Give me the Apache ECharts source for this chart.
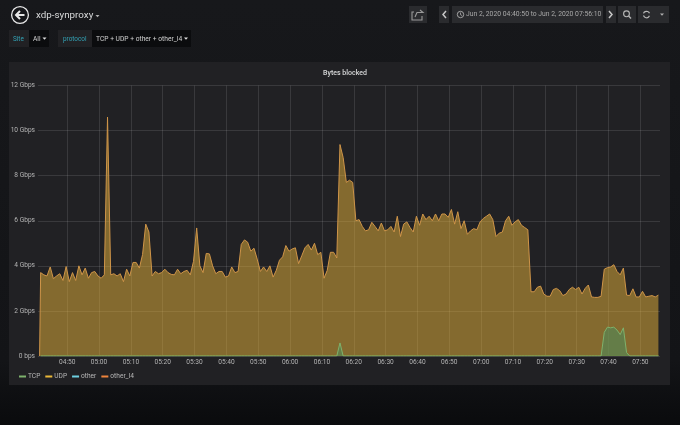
<!DOCTYPE html>
<html><head><meta charset="utf-8">
<script src="https://cdn.jsdelivr.net/npm/echarts@6/dist/echarts.min.js"></script>
<style>html,body{margin:0;padding:0;background:#0b0c0e}#c{width:680px;height:425px}</style>
</head><body><div id="c"></div>
<script>
const seriesNames = ['TCP','UDP','other','other_l4'];
const yTicks = ['0 bps','2 Gbps','4 Gbps','6 Gbps','8 Gbps','10 Gbps','12 Gbps'];
const xTickTimes = ['04:50','05:00','05:10','05:20','05:30','05:40','05:50','06:00','06:10','06:20','06:30','06:40','06:50','07:00','07:10','07:20','07:30','07:40','07:50'];
const otherL4 = [
3.7,3.6,3.55,3.95,3.43,3.55,3.65,3.35,3.97,3.3,
3.7,3.35,4.0,3.6,3.9,3.45,3.7,3.75,3.55,3.45,
3.6,10.6,3.6,3.65,3.55,3.65,3.3,3.85,3.55,4.15,
4.15,3.9,4.5,5.85,5.5,3.55,3.75,3.65,3.7,3.85,
3.7,3.62,3.6,3.85,3.65,3.75,3.8,3.6,4.2,5.68,
4.0,3.7,4.55,4.53,4.0,3.65,3.75,3.75,3.5,3.55,
3.95,3.7,3.75,4.95,5.15,5.05,4.65,4.78,4.3,3.75,
3.95,3.75,4.0,3.5,3.8,4.25,4.4,4.9,4.65,4.75,
4.8,4.1,4.45,4.8,4.95,4.7,5.0,4.5,4.6,3.45,
3.8,4.6,4.6,4.35,9.38,8.8,7.7,7.8,7.7,6.0,
6.05,5.75,5.55,5.6,5.93,5.75,5.55,5.9,5.55,5.6,
5.75,5.5,6.2,5.3,5.85,5.95,5.7,5.5,6.2,5.8,
6.3,6.05,6.2,6.0,6.3,6.0,6.3,6.3,6.15,6.5,
5.85,6.4,5.65,6.0,5.4,5.55,5.65,5.6,5.95,6.1,
6.2,6.3,6.05,5.3,5.45,5.5,6.0,6.2,5.8,5.95,
6.05,5.8,5.7,5.6,2.85,2.85,3.05,3.1,2.75,2.65,
2.65,2.95,3.0,2.9,2.68,2.75,2.95,3.05,2.95,3.05,
2.75,3.0,3.15,2.62,2.6,2.6,2.65,3.85,3.92,3.95,
4.05,3.75,3.6,3.9,2.7,2.68,2.98,2.62,2.62,2.87,
2.62,2.65,2.68,2.62,2.7];
const tcp = [
0,0,0,0,0,0,0,0,0,0,0,0,0,0,0,0,0,0,0,0,
0,0,0,0,0,0,0,0,0,0,0,0,0,0,0,0,0,0,0,0,
0,0,0,0,0,0,0,0,0,0,0,0,0,0,0,0,0,0,0,0,
0,0,0,0,0,0,0,0,0,0,0,0,0,0,0,0,0,0,0,0,
0,0,0,0,0,0,0,0,0,0,0,0,0,0,0.58,0,0,0,0,0,
0,0,0,0,0,0,0,0,0,0,0,0,0,0,0,0,0,0,0,0,
0,0,0,0,0,0,0,0,0,0,0,0,0,0,0,0,0,0,0,0,
0,0,0,0,0,0,0,0,0,0,0,0,0,0,0,0,0,0,0,0,
0,0,0,0,0,0,0,0,0,0,0,0,0,0,0,0,0,1.05,1.28,1.25,
1.28,1.15,0.95,1.25,0.15,0,0,0,0,0,0,0,0,0,0];
const udp = otherL4.map(() => 0.02);
const other = otherL4.map(() => 0);

const day = (h,m,s) => new Date(2020,5,2,h,m,s).getTime();
const rangeStart = day(4,40,50), rangeEnd = day(7,56,10);
const firstSample = day(4,41,40), stepMs = 60000;
const pair = arr => arr.map((v,i) => [firstSample + i*stepMs, v]);
const withRise = arr => [[day(4,41,20),0]].concat(pair(arr));
const xTicks = xTickTimes.map(s => { const [h,m] = s.split(':').map(Number); return day(h,m,0); });
const two = n => String(n).padStart(2,'0');

const rect = (x,y,w,h,fill) => ({type:'rect',silent:true,shape:{x,y,width:w,height:h},style:{fill}});
const txt = (x,y,text,fill,size,align) => ({type:'text',silent:true,x,y,style:{text,fill,font:size+'px Roboto',textAlign:align||'left',textVerticalAlign:'middle'}});
const caret = (cx,cy,fill) => ({type:'polygon',silent:true,shape:{points:[[cx-2,cy-1],[cx+2,cy-1],[cx,cy+1.3]]},style:{fill}});
const line = (pts,stroke,lw) => ({type:'polyline',silent:true,shape:{points:pts},style:{stroke,lineWidth:lw||1.2,fill:null}});

const chrome = [
  rect(9,62,661,323,'#212124'),
  {type:'circle',silent:true,shape:{cx:20,cy:15,r:8.4},style:{fill:'none',stroke:'#e8e8e8',lineWidth:1.3}},
  line([[16,15],[24.5,15]],'#e8e8e8',2), line([[20,11],[16,15],[20,19]],'#e8e8e8',2),
  txt(36,15.5,'xdp-synproxy','#d8d9da',9.8), caret(97.5,16,'#b0b0b0'),
  rect(9,30,20,17,'#212124'), txt(13,39,'Site','#33a2b5',6.4),
  rect(29,30,20,17,'#0b0c0e'), txt(33,39,'All','#d0d0d0',6.7), caret(44.5,38.5,'#e0e0e0'),
  rect(58,30,34,17,'#212124'), txt(63,39,'protocol','#33a2b5',6.4),
  rect(92,30,99,17,'#0b0c0e'), txt(96,39,'TCP + UDP + other + other_l4','#d0d0d0',6.7), caret(186,38.5,'#e0e0e0'),
  rect(409,6,18,17,'#2a2b2e'),
  line([[414,12],[412,12],[412,20],[422,20],[422,16]],'#9a9a9a',1.1), line([[415,17],[417,12.5],[423,12.5],[420,10]],'#9a9a9a',1.1),
  rect(439,6,10,17,'#2a2b2e'), line([[446,11],[443,14.5],[446,18]],'#c8c8c8',1.5),
  rect(452,6,151,17,'#2a2b2e'),
  {type:'circle',silent:true,shape:{cx:460.5,cy:14.5,r:3.2},style:{fill:'none',stroke:'#b0b0b0',lineWidth:.9}},
  line([[460.5,12.5],[460.5,14.7],[462,15.5]],'#b0b0b0',.8),
  txt(466,14.5,'Jun 2, 2020 04:40:50 to Jun 2, 2020 07:56:10','#a8a8a8',6.8),
  rect(606,6,10,17,'#2a2b2e'), line([[609,11],[612,14.5],[609,18]],'#c8c8c8',1.5),
  rect(618,6,18,17,'#2a2b2e'),
  {type:'circle',silent:true,shape:{cx:626.5,cy:13.8,r:2.9},style:{fill:'none',stroke:'#b8b8b8',lineWidth:1.1}},
  line([[628.6,16],[631,18.4]],'#b8b8b8',1.4),
  rect(638,6,31,17,'#2a2b2e'),
  {type:'arc',silent:true,shape:{cx:646.5,cy:14.5,r:3.2,startAngle:3.5,endAngle:5.9},style:{stroke:'#b8b8b8',lineWidth:1.2,fill:null}},
  {type:'arc',silent:true,shape:{cx:646.5,cy:14.5,r:3.2,startAngle:0.4,endAngle:2.8},style:{stroke:'#b8b8b8',lineWidth:1.2,fill:null}},
  caret(662,14.5,'#b0b0b0')
];

const chart = echarts.init(document.getElementById('c'), null, {renderer:'canvas'});
chart.setOption({
  animation:false,
  backgroundColor:{type:'linear',x:0,y:0,x2:0,y2:1,colorStops:[{offset:0,color:'#17181b'},{offset:.85,color:'#131417'},{offset:1,color:'#0a0b0d'}]},
  title:{text:'Bytes blocked',left:340,top:65,textAlign:'center',textStyle:{color:'#d8d9da',fontSize:7,fontWeight:500,fontFamily:'Roboto'}},
  grid:{left:38,right:20,top:85.5,bottom:69},
  legend:{left:14,top:368,icon:'rect',itemWidth:7,itemHeight:2,itemGap:5,data:seriesNames,
    textStyle:{color:'#b8b8b8',fontSize:6.6,fontFamily:'Roboto',padding:[0,0,0,-3]}},
  xAxis:{type:'value',min:rangeStart,max:rangeEnd,
    axisLine:{show:false},
    axisTick:{show:false,customValues:xTicks},
    splitLine:{show:true,lineStyle:{color:'rgba(255,255,255,0.11)',width:1}},
    axisLabel:{customValues:xTicks,color:'#b4b4b4',fontSize:6.6,fontFamily:'Roboto',margin:3,hideOverlap:false,
      formatter:v=>{const d=new Date(v);return two(d.getHours())+':'+two(d.getMinutes());}}},
  yAxis:{type:'value',min:0,max:12,interval:2,
    axisLine:{show:false},axisTick:{show:false},
    splitLine:{show:true,lineStyle:{color:'rgba(255,255,255,0.11)',width:1}},
    axisLabel:{color:'#b4b4b4',fontSize:6.6,fontFamily:'Roboto',margin:3,formatter:v=>yTicks[v/2]}},
  series:[
    {name:'TCP',type:'line',z:5,symbol:'none',data:pair(tcp),color:'#7EB26D',lineStyle:{width:1,color:'#7EB26D'},areaStyle:{color:'#4f8a5a',opacity:.6}},
    {name:'UDP',type:'line',z:4,symbol:'none',data:pair(udp),color:'#EAB839',lineStyle:{width:1,color:'#8a7a2a'}},
    {name:'other',type:'line',z:3,symbol:'none',data:pair(other),color:'#6ED0E0',lineStyle:{width:1,opacity:0}},
    {name:'other_l4',type:'line',z:2,symbol:'none',data:withRise(otherL4),color:'#EF843C',lineStyle:{width:1,color:'#cf9549'},areaStyle:{color:'#e8b33a',opacity:.5}}
  ],
  graphic:chrome.map(e=>Object.assign({z:-1},e))
});
</script></body></html>
